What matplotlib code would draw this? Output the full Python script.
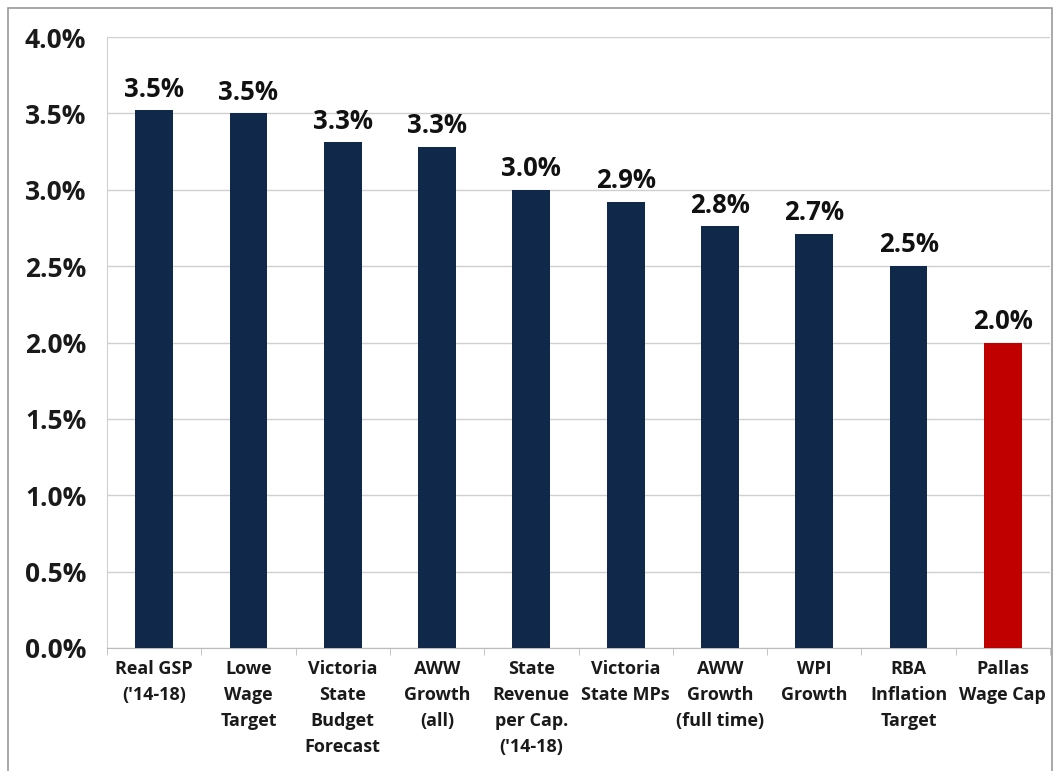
import matplotlib
matplotlib.use("Agg")
import matplotlib.pyplot as plt
from matplotlib.patches import Rectangle
from matplotlib.ticker import FuncFormatter, FixedLocator

categories = ["Real GSP\n('14-18)", "Lowe\nWage\nTarget", "Victoria\nState\nBudget\nForecast",
              "AWW\nGrowth\n(all)", "State\nRevenue\nper Cap.\n('14-18)", "Victoria\nState MPs",
              "AWW\nGrowth\n(full time)", "WPI\nGrowth", "RBA\nInflation\nTarget", "Pallas\nWage Cap"]
values = [3.52, 3.50, 3.31, 3.28, 3.00, 2.92, 2.76, 2.71, 2.50, 2.00]
bar_colors = ["#10284A"] * 9 + ["#C00000"]
yticks = [0.0, 0.5, 1.0, 1.5, 2.0, 2.5, 3.0, 3.5, 4.0]

plt.rcParams['font.family'] = ['Open Sans', 'DejaVu Sans']

fig = plt.figure(figsize=(10.54, 7.71), dpi=100)
ax = fig.add_axes([107/1054, 1 - 648/771, (1050-107)/1054, (648-37)/771])

x = list(range(len(categories)))
ax.bar(x, values, width=0.4, color=bar_colors, zorder=3)
for xi, v in zip(x, values):
    ax.text(xi, v + 0.05, f"{v:.1f}%", ha='center', va='bottom', fontsize=18.5,
            fontweight='bold', color='#111111', zorder=4)

ax.set_xlim(-0.5, len(categories) - 0.5)
ax.set_ylim(0, 4.0)
ax.set_yticks(yticks)
ax.yaxis.set_major_formatter(FuncFormatter(lambda v, p: f"{v:.1f}%"))
ax.grid(axis='y', color='#D0D0D0', linewidth=1.0, zorder=0)
ax.tick_params(axis='y', length=0, labelsize=19, pad=15)
for lab in ax.get_yticklabels():
    lab.set_fontweight('bold')
    lab.set_color('#1a1a1a')

ax.set_xticks(x)
ax.set_xticklabels(categories, fontsize=13, fontweight='bold', color='#1a1a1a', linespacing=1.55)
ax.tick_params(axis='x', length=0, pad=9)
ax.xaxis.set_minor_locator(FixedLocator([i - 0.5 for i in range(len(categories) + 1)]))
ax.tick_params(axis='x', which='minor', length=5, color='#BBBBBB', direction='out')

for s in ['top', 'right']:
    ax.spines[s].set_visible(False)
ax.spines['left'].set_color('#D0D0D0')
ax.spines['bottom'].set_color('#BBBBBB')

fig.patches.append(Rectangle((8/1054, -0.1), (1052-8)/1054, 1 - 8/771 + 0.1,
                             transform=fig.transFigure, fill=False,
                             edgecolor='#9A9A9A', linewidth=1.2))

fig.savefig("out.png", dpi=100)
